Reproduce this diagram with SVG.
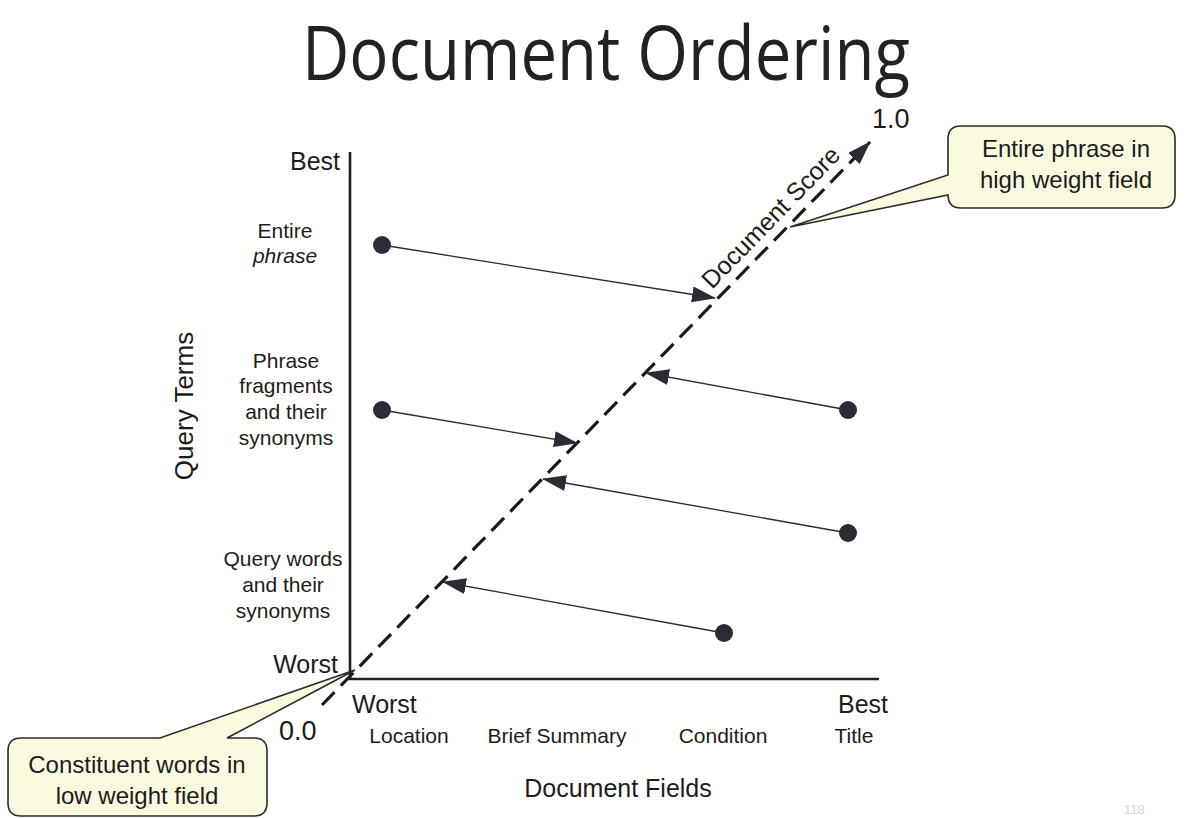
<svg xmlns="http://www.w3.org/2000/svg" width="1188" height="818" viewBox="0 0 1188 818">
  <style>
    .t { font-family: "Liberation Sans", Arial, sans-serif; fill: #1c1c1c; }
    .title { font-family: "Open Sans", "Noto Sans", sans-serif; font-size: 75px; fill: #222; }
    .big { font-size: 25px; }
    .lbl { font-size: 21px; }
    .note { font-size: 24px; }
    .axis { stroke: #1e1e1e; stroke-width: 2.6; fill: none; }
    .link { stroke: #2a2a2a; stroke-width: 1.3; fill: none; }
    .dot { fill: #2b2b36; }
    .callout { fill: #fafadf; stroke: #2a2a2a; stroke-width: 1.6; }
  </style>
  <defs>
    <marker id="head" viewBox="0 0 24 16" refX="23" refY="8" markerWidth="24" markerHeight="16" markerUnits="userSpaceOnUse" orient="auto">
      <path d="M0,0 L24,8 L0,16 Z" fill="#2b2b36"/>
    </marker>
  </defs>

  <rect width="1188" height="818" fill="#ffffff"/>

  <text class="title" x="302" y="80" textLength="608" lengthAdjust="spacingAndGlyphs">Document Ordering</text>

  <!-- axes -->
  <g id="axes">
    <path class="axis" d="M350,152 V679 H879"/>
  </g>

  <!-- axis labels -->
  <g id="y-axis-labels" class="t">
    <text class="big" x="340" y="170" text-anchor="end">Best</text>
    <text class="big" x="338" y="673" text-anchor="end">Worst</text>
    <text class="big" transform="translate(193,406) rotate(-90)" text-anchor="middle" style="font-size:26px">Query Terms</text>
    <g id="entire-phrase" class="lbl" text-anchor="middle">
      <text x="285" y="238">Entire</text>
      <text x="285" y="263" font-style="italic">phrase</text>
    </g>
    <g id="phrase-fragments" class="lbl" text-anchor="middle">
      <text x="286" y="368">Phrase</text>
      <text x="286" y="393">fragments</text>
      <text x="286" y="419">and their</text>
      <text x="286" y="445">synonyms</text>
    </g>
    <g id="query-words" class="lbl" text-anchor="middle">
      <text x="283" y="566">Query words</text>
      <text x="283" y="592">and their</text>
      <text x="283" y="618">synonyms</text>
    </g>
  </g>

  <g id="x-axis-labels" class="t">
    <text class="big" x="352" y="713">Worst</text>
    <text class="big" x="888" y="713" text-anchor="end">Best</text>
    <g class="lbl" text-anchor="middle">
      <text x="409" y="743">Location</text>
      <text x="557" y="743">Brief Summary</text>
      <text x="723" y="743">Condition</text>
      <text x="854" y="743">Title</text>
    </g>
    <text class="big" x="618" y="797" text-anchor="middle">Document Fields</text>
  </g>

  <!-- score axis -->
  <g id="score-axis">
    <line x1="322" y1="705" x2="870" y2="142" stroke="#1a1a1a" stroke-width="3.2" stroke-dasharray="18 9" marker-end="url(#head)"/>
    <text class="t" transform="translate(712,290) rotate(-45.8)" style="font-size:25px">Document Score</text>
    <text class="t" x="872" y="128" style="font-size:27px">1.0</text>
    <text class="t" x="279" y="740" style="font-size:27px">0.0</text>
  </g>

  <!-- connectors from query-term/field positions to the score axis -->
  <g id="connectors">
    <line class="link" x1="382" y1="245" x2="715" y2="298" marker-end="url(#head)"/>
    <line class="link" x1="848" y1="410" x2="646" y2="373" marker-end="url(#head)"/>
    <line class="link" x1="382" y1="410" x2="577" y2="443" marker-end="url(#head)"/>
    <line class="link" x1="848" y1="533" x2="543" y2="479" marker-end="url(#head)"/>
    <line class="link" x1="724" y1="633" x2="443" y2="582" marker-end="url(#head)"/>
  </g>

  <g id="points">
    <circle id="p-entire-location" class="dot" cx="382" cy="245" r="9"/>
    <circle id="p-fragments-location" class="dot" cx="382" cy="410" r="9"/>
    <circle id="p-fragments-title" class="dot" cx="848" cy="410" r="9"/>
    <circle id="p-words-title" class="dot" cx="848" cy="533" r="9"/>
    <circle id="p-words-condition" class="dot" cx="724" cy="633" r="9"/>
  </g>

  <!-- callouts -->
  <g id="callout-high">
    <path class="callout" d="M961,126 H1162 Q1175,126 1175,139 V195 Q1175,208 1162,208 H961 Q948,208 948,195 L790,227 L948,175 V139 Q948,126 961,126 Z"/>
    <g class="t note" text-anchor="middle">
      <text x="1066" y="157">Entire phrase in</text>
      <text x="1066" y="188">high weight field</text>
    </g>
  </g>

  <g id="callout-low">
    <path class="callout" d="M21,738 H160 L355,670 L227,738 H254 Q267,738 267,751 V803 Q267,816 254,816 H21 Q8,816 8,803 V751 Q8,738 21,738 Z"/>
    <g class="t note" text-anchor="middle">
      <text x="137" y="773">Constituent words in</text>
      <text x="137" y="804">low weight field</text>
    </g>
  </g>

  <!-- page number -->
  <text class="t" x="1124" y="814" style="font-size:13px;fill:#d4d4d4">118</text>
</svg>
